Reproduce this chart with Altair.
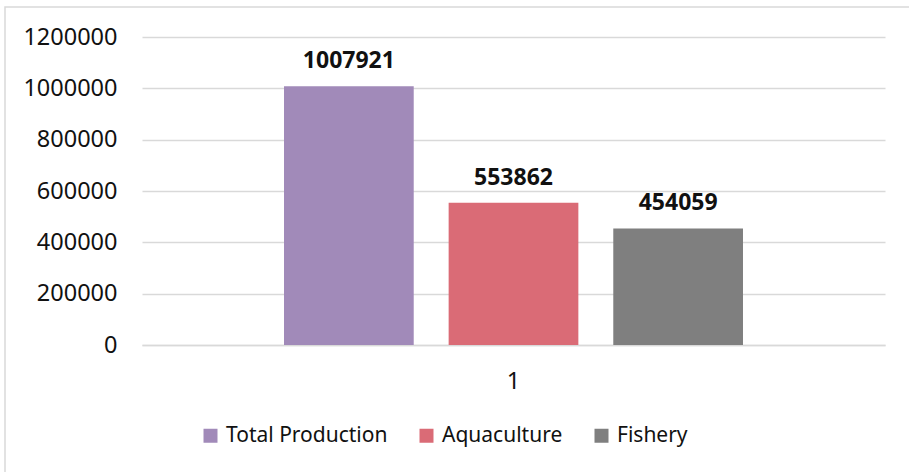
import altair as alt
import pandas as pd

categories = ["1"]
series = ["Total Production", "Aquaculture", "Fishery"]
values = [1007921, 553862, 454059]
colors = ["#A18AB9", "#DA6B76", "#7F7F7F"]
y_ticks = [0, 200000, 400000, 600000, 800000, 1000000, 1200000]

df = pd.DataFrame({
    "cat": categories * len(series),
    "series": series,
    "value": values,
})

FONT = "Noto Sans"

x_enc = alt.X("cat:N", title=None,
              scale=alt.Scale(paddingInner=0, paddingOuter=0.3094),
              axis=alt.Axis(labelAngle=0, labelFont=FONT, labelFontSize=23.5,
                            labelColor="#111111", ticks=False, domain=True,
                            domainColor="#d9d9d9", domainWidth=1.5, labelPadding=24,
                            grid=False))
xo_enc = alt.XOffset("series:N", sort=series,
                     scale=alt.Scale(paddingInner=0.2121, paddingOuter=0))
y_enc = alt.Y("value:Q", title=None,
              scale=alt.Scale(domain=[0, 1200000], nice=False),
              axis=alt.Axis(values=y_ticks, format="d", labelFont=FONT,
                            labelFontSize=23.5, labelColor="#111111", ticks=False,
                            domain=False, grid=True, gridColor="#d9d9d9",
                            gridWidth=1.5, labelPadding=25))

bars = alt.Chart(df).mark_bar().encode(
    x=x_enc,
    xOffset=xo_enc,
    y=y_enc,
    color=alt.Color("series:N", sort=series,
                    scale=alt.Scale(domain=series, range=colors),
                    legend=alt.Legend(title=None, orient="none", legendX=58,
                                      legendY=388, direction="horizontal",
                                      symbolType="square", symbolSize=196,
                                      symbolStrokeWidth=0, labelFont=FONT,
                                      labelFontSize=21, labelColor="#111111",
                                      labelOffset=5, columnPadding=28,
                                      labelLimit=500, padding=0)),
)

labels = alt.Chart(df).mark_text(
    font=FONT, fontSize=23, fontWeight="bold", color="#111111",
    baseline="alphabetic", dy=-18
).encode(
    x=alt.X("cat:N"),
    xOffset=alt.XOffset("series:N", sort=series),
    y=alt.Y("value:Q"),
    text=alt.Text("value:Q", format="d"),
)

border = alt.Chart(pd.DataFrame({"a": [0]})).mark_rect(
    fill=None, stroke="#d9d9d9", strokeWidth=1.5
).encode(
    x=alt.value(-137), x2=alt.value(900), y=alt.value(-30), y2=alt.value(600)
)

chart = alt.layer(border, bars, labels).properties(
    width=743, height=308,
    background="white",
    autosize=alt.AutoSizeParams(type="none"),
    padding={"left": 142, "top": 37, "right": 24, "bottom": 127},
).configure_view(strokeWidth=0, stroke=None)

chart.save("out.html", embed_options={"renderer": "svg", "actions": False})
